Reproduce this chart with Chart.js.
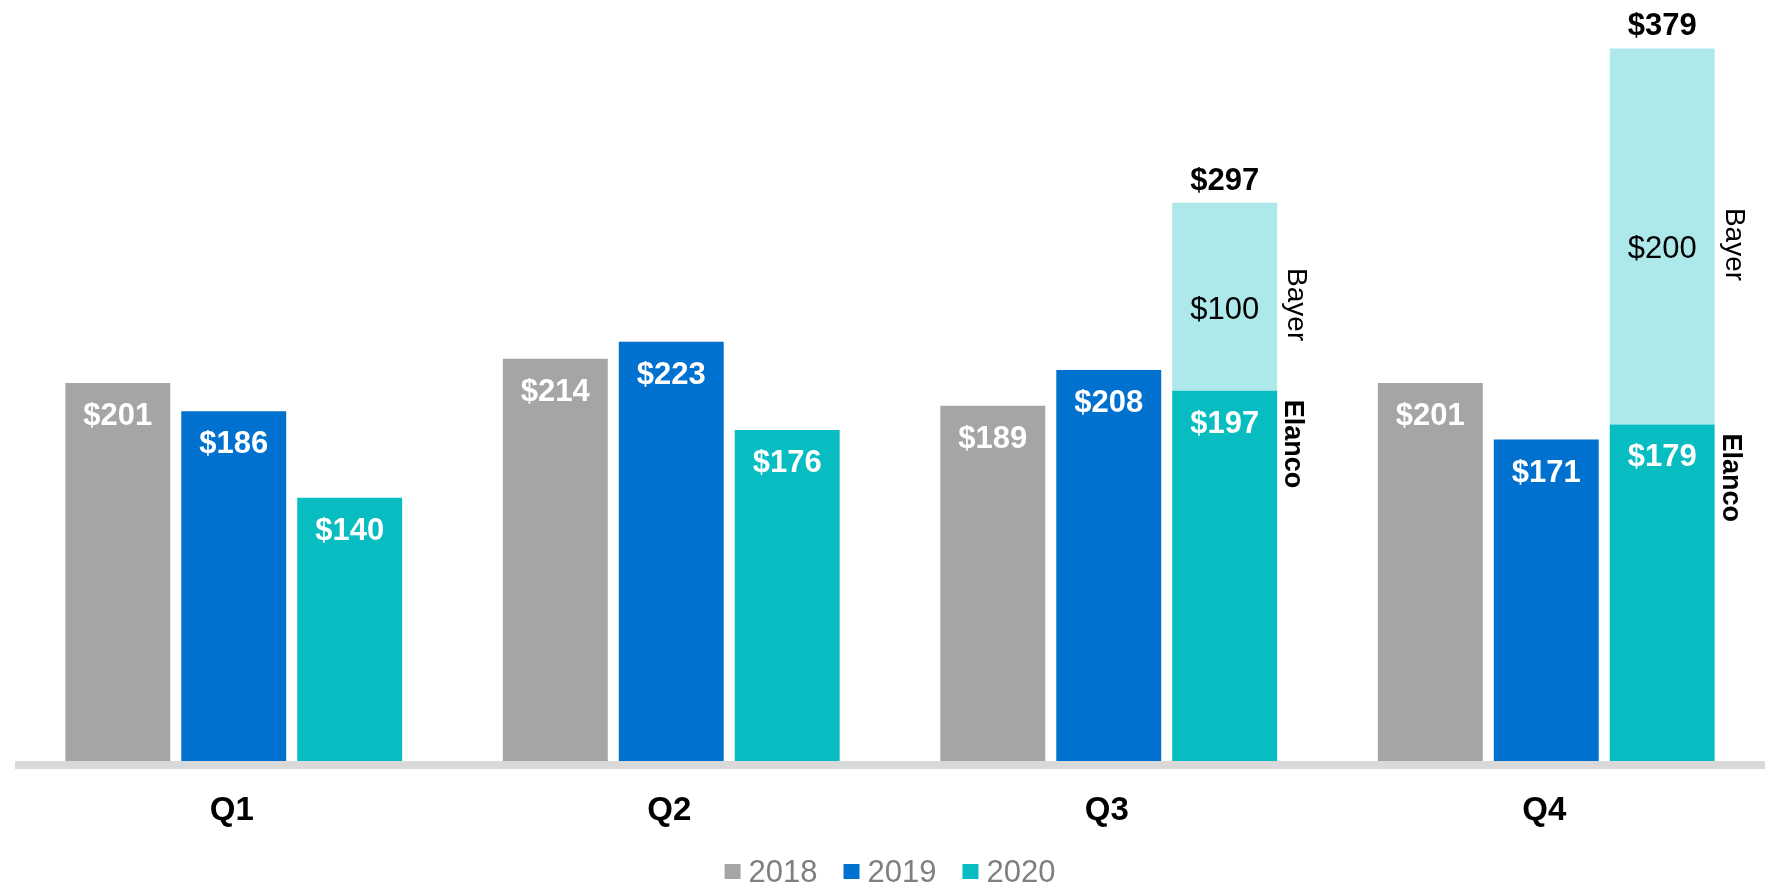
<!DOCTYPE html>
<html>
<head>
<meta charset="utf-8">
<script src="https://cdn.jsdelivr.net/npm/chart.js@4/dist/chart.umd.min.js"></script>
<style>
  html, body { margin: 0; padding: 0; background: #ffffff; }
  #wrap { width: 1780px; height: 894px; }
</style>
</head>
<body>
<div id="wrap"><canvas id="c" width="1780" height="894"></canvas></div>
<script>
// Quarterly revenue by year ($ millions); 2020 split into Elanco and Bayer
const quarters = ['Q1', 'Q2', 'Q3', 'Q4'];
const years = ['2018', '2019', '2020'];
const sales2018 = [201, 214, 189, 201];
const sales2019 = [186, 223, 208, 171];
const elanco2020 = [140, 176, 197, 179];
const bayer2020 = [null, null, 100, 200];
const yMax = 400;

const GRAY = '#A5A5A5';
const BLUE = '#0071CE';
const TEAL = '#07BDC1';
const LIGHT_TEAL = '#ADE9EA';
const FONT = '"Liberation Sans", Arial, sans-serif';

const money = v => '$' + v;

const annotate = {
  id: 'annotate',
  afterDatasetsDraw(chart) {
    const ctx = chart.ctx;
    const area = chart.chartArea;
    const xs = chart.scales.x;
    const ys = chart.scales.y;
    ctx.save();

    // baseline band
    ctx.fillStyle = '#D9D9D9';
    ctx.fillRect(area.left, ys.getPixelForValue(0), area.right - area.left, 8);

    // white values inside the year bars
    ctx.font = 'bold 31px ' + FONT;
    ctx.textAlign = 'center';
    ctx.textBaseline = 'alphabetic';
    ctx.fillStyle = '#FFFFFF';
    [sales2018, sales2019, elanco2020].forEach((arr, di) => {
      const meta = chart.getDatasetMeta(di);
      arr.forEach((v, i) => {
        const bar = meta.data[i];
        ctx.fillText(money(v), bar.x, bar.y + 42);
      });
    });

    // Bayer segments, totals and side captions
    const bayerMeta = chart.getDatasetMeta(3);
    const elancoMeta = chart.getDatasetMeta(2);
    bayer2020.forEach((v, i) => {
      if (v == null) return;
      const seg = bayerMeta.data[i];
      const base = elancoMeta.data[i];
      const mid = (seg.y + seg.base) / 2;
      const right = seg.x + seg.width / 2;

      ctx.fillStyle = '#000000';
      ctx.textAlign = 'center';
      ctx.font = '31px ' + FONT;
      ctx.fillText(money(v), seg.x, mid + 22);

      ctx.font = 'bold 31px ' + FONT;
      ctx.fillText(money(v + elanco2020[i]), seg.x, seg.y - 13);

      ctx.save();
      ctx.translate(right + 11, mid + 8);
      ctx.rotate(Math.PI / 2);
      ctx.font = '28px ' + FONT;
      ctx.textAlign = 'center';
      ctx.fillText('Bayer', 0, 0);
      ctx.restore();

      ctx.save();
      ctx.translate(right + 8, base.y + 9);
      ctx.rotate(Math.PI / 2);
      ctx.font = 'bold 27px ' + FONT;
      ctx.textAlign = 'left';
      ctx.fillText('Elanco', 0, 0);
      ctx.restore();
    });

    // category labels
    ctx.fillStyle = '#000000';
    ctx.font = 'bold 33px ' + FONT;
    ctx.textAlign = 'center';
    quarters.forEach((q, i) => {
      ctx.fillText(q, xs.getPixelForValue(i) - 2, 820);
    });

    // legend
    const colors = [GRAY, BLUE, TEAL];
    ctx.font = '31px ' + FONT;
    ctx.textAlign = 'left';
    const widths = years.map(t => ctx.measureText(t).width);
    const total = widths.reduce((a, w) => a + 24 + w, 0) + 26 * (years.length - 1);
    let x = (area.left + area.right) / 2 - total / 2;
    years.forEach((t, i) => {
      ctx.fillStyle = colors[i];
      ctx.fillRect(x, 864, 16, 15);
      ctx.fillStyle = '#7F7F7F';
      ctx.fillText(t, x + 24, 881.5);
      x += 24 + widths[i] + 26;
    });

    ctx.restore();
  }
};

new Chart(document.getElementById('c'), {
  type: 'bar',
  data: {
    labels: quarters,
    datasets: [
      { label: years[0], data: sales2018, backgroundColor: GRAY, stack: 's2018' },
      { label: years[1], data: sales2019, backgroundColor: BLUE, stack: 's2019' },
      { label: years[2], data: elanco2020, backgroundColor: TEAL, stack: 's2020' },
      { label: 'Bayer', data: bayer2020, backgroundColor: LIGHT_TEAL, stack: 's2020' }
    ]
  },
  options: {
    responsive: false,
    animation: false,
    layout: { padding: { left: 15, right: 15, top: 9, bottom: 133 } },
    datasets: { bar: { categoryPercentage: 0.795, barPercentage: 0.905, borderWidth: 0 } },
    scales: {
      x: { stacked: true, display: false },
      y: { stacked: true, display: false, min: 0, max: yMax }
    },
    plugins: { legend: { display: false }, tooltip: { enabled: false } }
  },
  plugins: [annotate]
});
</script>
</body>
</html>
